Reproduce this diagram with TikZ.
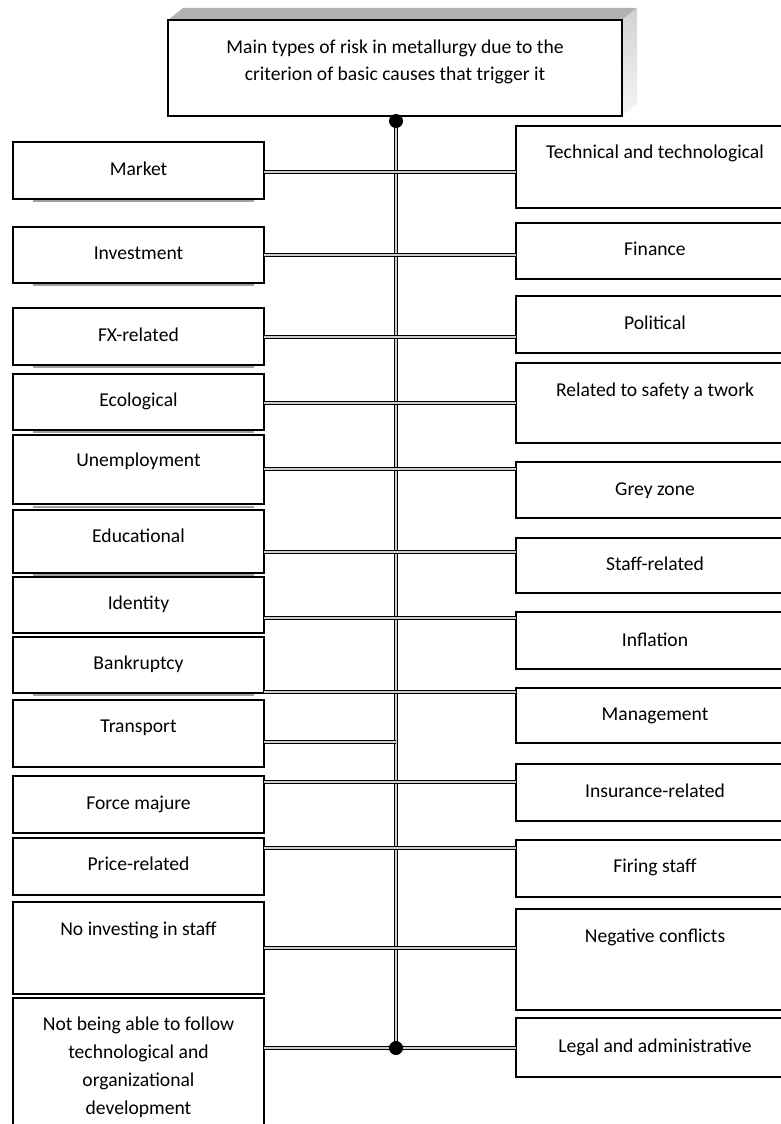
\documentclass[tikz,border=0pt]{standalone}
\usepackage{fontspec}
\setmainfont{Carlito}
\begin{document}
\begin{tikzpicture}[x=1pt,y=-1pt,
  lbox/.style={draw=black, line width=1.5pt, fill=white, inner sep=0pt, outer sep=0pt, minimum width=251pt},
  rbox/.style={draw=black, line width=1.5pt, fill=white, inner sep=0pt, outer sep=0pt, minimum width=278pt},
  tbox/.style={draw=black, line width=1.5pt, fill=white, inner sep=0pt, outer sep=0pt, minimum width=454pt, minimum height=96pt},
  txt/.style={font=\fontsize{19.6}{27.8}\selectfont, anchor=base, inner sep=0pt, align=center},
  conn/.style={draw=black, line width=0.7pt, double=gray!40, double distance=2.2pt},
  dotnode/.style={circle, fill=black, minimum size=14pt, inner sep=0pt},
  shadowline/.style={draw=gray!75, line width=1.4pt}]
\useasboundingbox (0,0) rectangle (781,1124);
\clip (0,0) rectangle (781,1124);
% top box with 3D faces
\fill[gray!60] (168,20) -- (183,8) -- (637,8) -- (622,20) -- cycle;
\shade[top color=gray!35, bottom color=gray!8] (622,20) -- (637,8) -- (637,104) -- (622,116) -- cycle;
\node[tbox] (T) at (395,68) {};
\node[txt] (Tt) at (395,81) {Main types of risk in metallurgy due to the\\criterion of basic causes that trigger it};
% shadow lines under some left boxes
\draw[shadowline] (33,200.8) -- (254,200.8);
\draw[shadowline] (33,284.8) -- (254,284.8);
\draw[shadowline] (33,366.8) -- (254,366.8);
\draw[shadowline] (33,432) -- (254,432);
\draw[shadowline] (33,507) -- (254,507);
\draw[shadowline] (33,575) -- (254,575);
\draw[shadowline] (33,694.8) -- (254,694.8);
% left boxes
\node[lbox, minimum height=57pt] (L1) at (138.5,170.5) {};
\node[lbox, minimum height=56pt] (L2) at (138.5,255) {};
\node[lbox, minimum height=57pt] (L3) at (138.5,336.5) {};
\node[lbox, minimum height=56pt] (L4) at (138.5,402) {};
\node[lbox, minimum height=69pt] (L5) at (138.5,469.5) {};
\node[lbox, minimum height=63pt] (L6) at (138.5,541.5) {};
\node[lbox, minimum height=56pt] (L7) at (138.5,605) {};
\node[lbox, minimum height=56pt] (L8) at (138.5,665) {};
\node[lbox, minimum height=67pt] (L9) at (138.5,733.5) {};
\node[lbox, minimum height=57pt] (L10) at (138.5,804.5) {};
\node[lbox, minimum height=57pt] (L11) at (138.5,866.5) {};
\node[lbox, minimum height=92pt] (L12) at (138.5,948) {};
\node[lbox, minimum height=150pt] (L13) at (138.5,1073) {};
% left texts
\node[txt] (L1t) at (138.5,175) {Market};
\node[txt] (L2t) at (138.5,259) {Investment};
\node[txt] (L3t) at (138.5,341) {FX-related};
\node[txt] (L4t) at (138.5,406) {Ecological};
\node[txt] (L5t) at (138.5,466) {Unemployment};
\node[txt] (L6t) at (138.5,542) {Educational};
\node[txt] (L7t) at (138.5,609) {Identity};
\node[txt] (L8t) at (138.5,669) {Bankruptcy};
\node[txt] (L9t) at (138.5,732) {Transport};
\node[txt] (L10t) at (138.5,809) {Force majure};
\node[txt] (L11t) at (138.5,870) {Price-related};
\node[txt] (L12t) at (138.5,935) {No investing in staff};
\node[txt] (L13t) at (138.5,1114) {Not being able to follow\\technological and\\organizational\\development};
% right boxes
\node[rbox, minimum height=82pt] (R1) at (655,167) {};
\node[rbox, minimum height=56pt] (R2) at (655,251) {};
\node[rbox, minimum height=57pt] (R3) at (655,324.5) {};
\node[rbox, minimum height=80pt] (R4) at (655,403) {};
\node[rbox, minimum height=56pt] (R5) at (655,490) {};
\node[rbox, minimum height=55pt] (R6) at (655,565.5) {};
\node[rbox, minimum height=57pt] (R7) at (655,640.5) {};
\node[rbox, minimum height=55pt] (R8) at (655,715.5) {};
\node[rbox, minimum height=57pt] (R9) at (655,792.5) {};
\node[rbox, minimum height=57pt] (R10) at (655,868.5) {};
\node[rbox, minimum height=101pt] (R11) at (655,959.5) {};
\node[rbox, minimum height=59pt] (R12) at (655,1047.5) {};
% right texts
\node[txt] (R1t) at (655,158) {Technical and technological};
\node[txt] (R2t) at (655,255) {Finance};
\node[txt] (R3t) at (655,329) {Political};
\node[txt] (R4t) at (655,396) {Related to safety a twork};
\node[txt] (R5t) at (655,495) {Grey zone};
\node[txt] (R6t) at (655,570) {Staff-related};
\node[txt] (R7t) at (655,646) {Inflation};
\node[txt] (R8t) at (655,720) {Management};
\node[txt] (R9t) at (655,797) {Insurance-related};
\node[txt] (R10t) at (655,872) {Firing staff};
\node[txt] (R11t) at (655,942) {Negative conflicts};
\node[txt] (R12t) at (655,1052) {Legal and administrative};
% spine
\coordinate (sTop) at (396,121);
\coordinate (sBot) at (396,1048);
\draw[conn] (sTop) -- (sBot);
% spine points of branches
\coordinate (y1) at (396,172);
\coordinate (y2) at (396,255);
\coordinate (y3) at (396,337);
\coordinate (y4) at (396,403);
\coordinate (y5) at (396,469);
\coordinate (y6) at (396,552);
\coordinate (y7) at (396,618);
\coordinate (y8) at (396,692);
\coordinate (y9) at (396,742);
\coordinate (y10) at (396,782);
\coordinate (y11) at (396,848);
\coordinate (y12) at (396,948);
% branches
\draw[conn] (L1.east |- y1) -- (R1.west |- y1);
\draw[conn] (L2.east |- y2) -- (R2.west |- y2);
\draw[conn] (L3.east |- y3) -- (R3.west |- y3);
\draw[conn] (L4.east |- y4) -- (R4.west |- y4);
\draw[conn] (L5.east |- y5) -- (R5.west |- y5);
\draw[conn] (L6.east |- y6) -- (R6.west |- y6);
\draw[conn] (L7.east |- y7) -- (R7.west |- y7);
\draw[conn] (L8.east |- y8) -- (R8.west |- y8);
\draw[conn] (L9.east |- y9) -- (y9);
\draw[conn] (L10.east |- y10) -- (R10.west |- y10);
\draw[conn] (L11.east |- y11) -- (R11.west |- y11);
\draw[conn] (L12.east |- y12) -- (R12.west |- y12);
\draw[conn] (L13.east |- sBot) -- (R12.west |- sBot);
% dots
\node[dotnode] (dTop) at (sTop) {};
\node[dotnode] (dBot) at (sBot) {};
\end{tikzpicture}
\end{document}
